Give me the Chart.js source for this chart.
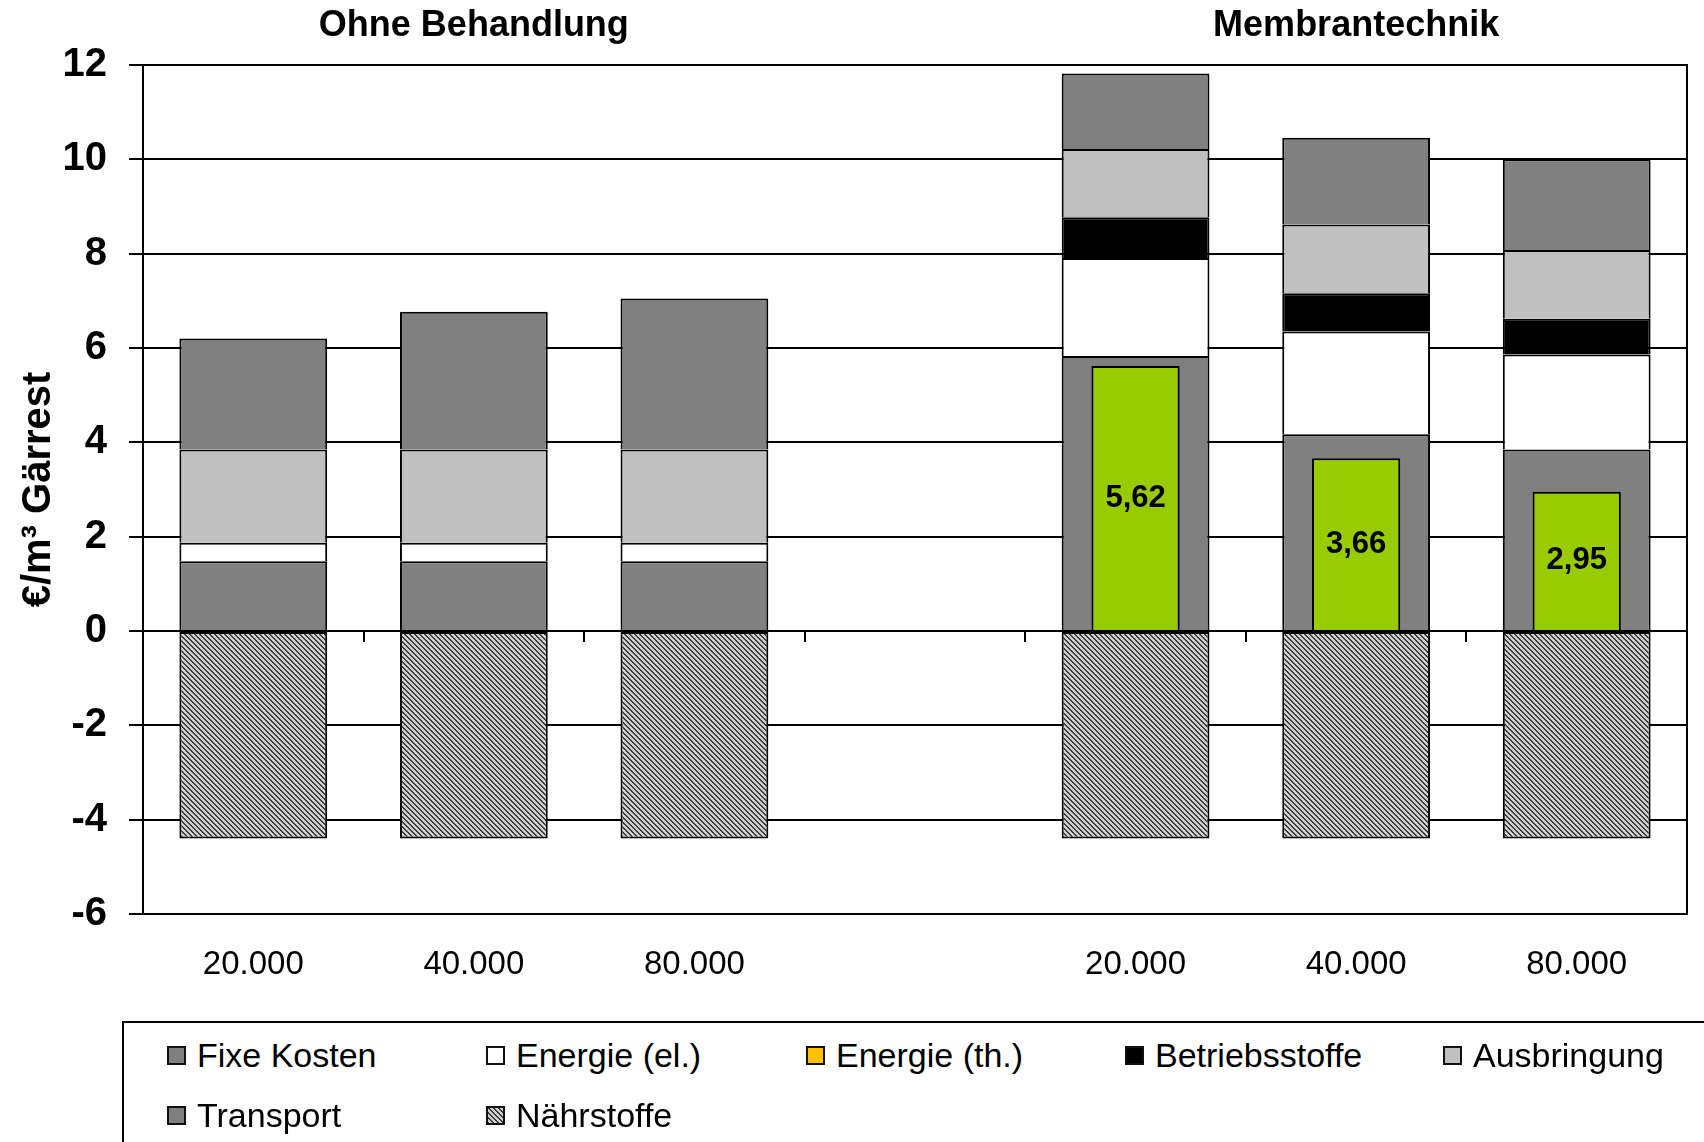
<!DOCTYPE html>
<html lang="de">
<head>
<meta charset="utf-8">
<title>Kosten Gärrest</title>
<script src="https://cdn.jsdelivr.net/npm/chart.js@4/dist/chart.umd.min.js"></script>
<style>
  html, body { margin: 0; padding: 0; background: #fff; overflow: hidden; }
  #wrap { position: relative; width: 1704px; height: 1142px; }
  #legend {
    position: absolute; left: 122px; top: 1021px; width: 1700px; height: 200px;
    box-sizing: border-box; border: 2px solid #000; background: #fff;
    padding: 2px 0 0 43px;
    display: grid; grid-template-columns: 319px 320px 319px 318px 320px; grid-auto-rows: 60px;
    font-family: "Liberation Sans", Arial, sans-serif; font-size: 34px; color: #000;
  }
  #legend .item { display: flex; align-items: center; white-space: nowrap; }
  #legend canvas { margin-right: 11px; display: block; }
</style>
</head>
<body>
<div id="wrap">
  <canvas id="chart" width="1704" height="1142"></canvas>
  <div id="legend"></div>
</div>
<script>
// Anlagengröße (m³ Gärrest / a), mittlere Lücke trennt die beiden Varianten
const categories = ['20.000', '40.000', '80.000', '', '20.000', '40.000', '80.000'];
const groupTitles = ['', 'Ohne Behandlung', '', '', '', 'Membrantechnik', ''];

// Kosten in €/m³ Gärrest
const fixeKosten     = [1.48, 1.48, 1.48, null, 5.83, 4.17, 3.85];
const energieEl      = [0.39, 0.39, 0.39, null, 2.08, 2.18, 2.01];
const energieTh      = [null, null, null, null, 5.62, 3.66, 2.95];
const betriebsstoffe = [0, 0, 0, null, 0.86, 0.81, 0.76];
const ausbringung    = [1.98, 1.98, 1.98, null, 1.45, 1.46, 1.46];
const transport      = [2.35, 2.92, 3.20, null, 1.60, 1.84, 1.92];
const naehrstoffe    = [-4.4, -4.4, -4.4, null, -4.4, -4.4, -4.4];

const yMin = -6, yMax = 12, yStep = 2;

const FONT = '"Liberation Sans", Arial, sans-serif';

// schraffur for the Nährstoffe gutschrift
function makeHatch() {
  const size = 5;
  const tile = document.createElement('canvas');
  tile.width = size; tile.height = size;
  const c = tile.getContext('2d');
  c.fillStyle = '#cfcfcf';
  c.fillRect(0, 0, size, size);
  c.fillStyle = '#3c3c3c';
  for (let y = 0; y < size; y++) {
    c.fillRect(y % size, y, 1, 1);
    c.fillRect((y + 1) % size, y, 1, 1);
  }
  return c.createPattern(tile, 'repeat');
}
const hatch = makeHatch();

const barValueLabels = {
  id: 'barValueLabels',
  afterDatasetsDraw(chart) {
    const ctx = chart.ctx;
    chart.data.datasets.forEach((ds, i) => {
      if (!ds.showValues) return;
      chart.getDatasetMeta(i).data.forEach((bar, j) => {
        const v = ds.data[j];
        if (v == null) return;
        ctx.save();
        ctx.font = 'bold 31px ' + FONT;
        ctx.fillStyle = '#000';
        ctx.textAlign = 'center';
        ctx.textBaseline = 'middle';
        ctx.fillText(v.toFixed(2).replace('.', ','), bar.x, (bar.y + bar.base) / 2);
        ctx.restore();
      });
    });
  }
};

const plotFrame = {
  id: 'plotFrame',
  afterDatasetsDraw(chart) {
    const { ctx, chartArea: a } = chart;
    ctx.save();
    ctx.strokeStyle = '#000';
    ctx.lineWidth = 2;
    ctx.strokeRect(a.left, a.top, a.right - a.left, a.bottom - a.top);
    ctx.restore();
  }
};

const base = {
  type: 'bar', stack: 'kosten', grouped: false, order: 1,
  categoryPercentage: 1, barPercentage: 0.67,
  borderColor: '#000', borderWidth: 2
};

const chart = new Chart(document.getElementById('chart'), {
  type: 'bar',
  data: {
    labels: categories,
    datasets: [
      { ...base, label: 'Fixe Kosten', data: fixeKosten, backgroundColor: '#808080' },
      { ...base, label: 'Energie (el.)', data: energieEl, backgroundColor: '#ffffff' },
      { ...base, label: 'Energie (th.)', data: energieTh, backgroundColor: '#99cc00',
        legendColor: '#ffc000', stack: 'waerme', order: 0, barPercentage: 0.4, showValues: true },
      { ...base, label: 'Betriebsstoffe', data: betriebsstoffe, backgroundColor: '#000000' },
      { ...base, label: 'Ausbringung', data: ausbringung, backgroundColor: '#c0c0c0' },
      { ...base, label: 'Transport', data: transport, backgroundColor: '#808080' },
      { ...base, label: 'Nährstoffe', data: naehrstoffe, backgroundColor: hatch, borderSkipped: false }
    ]
  },
  options: {
    responsive: false,
    devicePixelRatio: 1,
    animation: false,
    layout: { padding: { left: 0, right: 17, top: 0, bottom: 0 } },
    plugins: { legend: { display: false }, tooltip: { enabled: false } },
    scales: {
      x: {
        stacked: true,
        grid: { display: false, drawTicks: false },
        border: { display: false },
        ticks: { font: { family: FONT, size: 33 }, color: '#000', padding: 31, autoSkip: false, maxRotation: 0 },
        afterFit: s => { s.height = 228; }
      },
      xTop: {
        axis: 'x', type: 'category', position: 'top', labels: groupTitles,
        grid: { display: false, drawTicks: false },
        border: { display: false },
        ticks: { font: { family: FONT, size: 36, weight: 'bold' }, color: '#000', padding: 17, autoSkip: false, maxRotation: 0 },
        afterFit: s => { s.height = 65; }
      },
      xZero: {
        axis: 'x', type: 'category', position: { y: 0 },
        grid: { drawOnChartArea: false, offset: true, tickLength: 11, color: '#000', lineWidth: 2 },
        border: { display: false },
        ticks: { display: false }
      },
      y: {
        stacked: true, min: yMin, max: yMax,
        grid: { color: '#000', lineWidth: 2, tickLength: 14 },
        border: { display: false },
        ticks: { stepSize: yStep, font: { family: FONT, size: 40, weight: 'bold' }, color: '#000', padding: 22 },
        title: {
          display: true, text: '€/m³ Gärrest', color: '#000',
          font: { family: FONT, size: 40, weight: 'bold' }, padding: { top: 15, bottom: 0 }
        },
        afterFit: s => { s.width = 143; }
      }
    }
  },
  plugins: [plotFrame, barValueLabels]
});

// legend below the plot, one swatch per dataset in data order
const legendEl = document.getElementById('legend');
chart.data.datasets.forEach(ds => {
  const item = document.createElement('div');
  item.className = 'item';
  const sw = document.createElement('canvas');
  sw.width = 19; sw.height = 19;
  const c = sw.getContext('2d');
  c.fillStyle = ds.legendColor || ds.backgroundColor;
  c.fillRect(0, 0, 19, 19);
  c.strokeStyle = '#111';
  c.lineWidth = 2;
  c.strokeRect(1, 1, 17, 17);
  const txt = document.createElement('span');
  txt.textContent = ds.label;
  item.appendChild(sw);
  item.appendChild(txt);
  legendEl.appendChild(item);
});
</script>
</body>
</html>
